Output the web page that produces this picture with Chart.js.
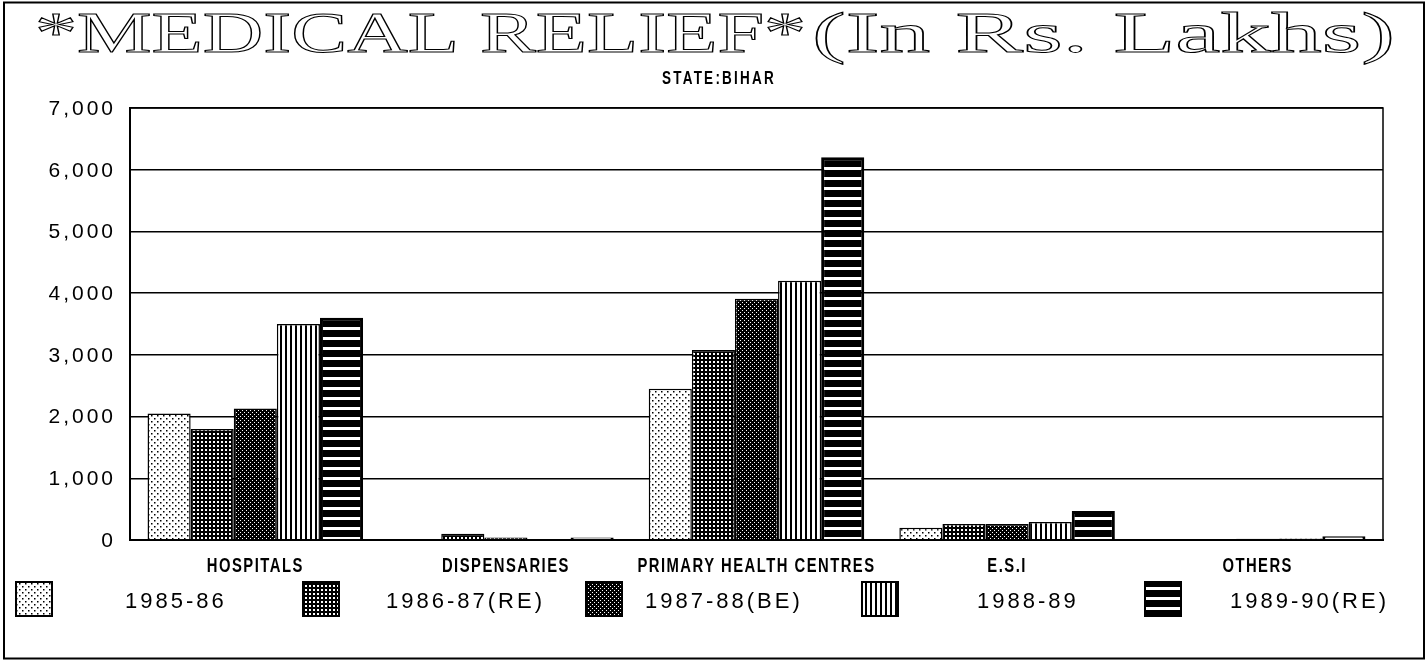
<!DOCTYPE html>
<html>
<head>
<meta charset="utf-8">
<title>Medical Relief - Bihar</title>
<script src="https://cdn.jsdelivr.net/npm/chart.js@4.4.0/dist/chart.umd.min.js"></script>
<style>
  html, body { margin: 0; padding: 0; background: #fff; }
  #chart { display: block; }
</style>
</head>
<body>
<canvas id="chart" width="1427" height="664"></canvas>
<script>
// Daten (in Rs. Lakhs)
const categories = ['HOSPITALS', 'DISPENSARIES', 'PRIMARY HEALTH CENTRES', 'E.S.I', 'OTHERS'];
const years = ['1985-86', '1986-87(RE)', '1987-88(BE)', '1988-89', '1989-90(RE)'];
const values1985 = [2050, 10, 2450, 200, 10];
const values1986 = [1800, 100, 3080, 260, 15];
const values1987 = [2130, 40, 3910, 260, 20];
const values1988 = [3500, 10, 4200, 290, 25];
const values1989 = [3600, 40, 6200, 470, 60];
const yTicks = [0, 1000, 2000, 3000, 4000, 5000, 6000, 7000];

const titleLeft = '*MEDICAL RELIEF*';
const titleRight = '(In Rs. Lakhs)';
const subtitleText = 'STATE:BIHAR';

// Schraffur-Muster wie im gedruckten Diagramm
function makePattern(kind) {
    const c = document.createElement('canvas');
    const g = c.getContext('2d');
    if (kind === 'dots') {
        c.width = 6; c.height = 6;
        g.fillStyle = '#fff'; g.fillRect(0, 0, 6, 6);
        g.fillStyle = '#000';
        g.fillRect(1, 1, 1.5, 1.5);
        g.fillRect(4, 4, 1.5, 1.5);
    } else if (kind === 'grid') {
        c.width = 4; c.height = 4;
        g.fillStyle = '#000'; g.fillRect(0, 0, 4, 4);
        g.fillStyle = '#fff'; g.fillRect(1, 1, 2, 2);
    } else if (kind === 'dark') {
        c.width = 4; c.height = 4;
        g.fillStyle = '#000'; g.fillRect(0, 0, 4, 4);
        g.fillStyle = '#fff';
        g.fillRect(0, 0, 1, 1);
        g.fillRect(2, 2, 1, 1);
    } else if (kind === 'vertical') {
        c.width = 5; c.height = 1;
        g.fillStyle = '#fff'; g.fillRect(0, 0, 5, 1);
        g.fillStyle = '#000'; g.fillRect(0, 0, 2, 1);
    } else {
        c.width = 1; c.height = 10;
        g.fillStyle = '#000'; g.fillRect(0, 0, 1, 10);
        g.fillStyle = '#fff'; g.fillRect(0, 7, 1, 3);
    }
    return g.createPattern(c, 'repeat');
}

const patterns = ['dots', 'grid', 'dark', 'vertical', 'horizontal'].map(makePattern);
const seriesValues = [values1985, values1986, values1987, values1988, values1989];

// Legende: Positionen der Kästchen und Texte
const legendBoxX = [16, 303, 586, 862, 1145];
const legendTextX = [125, 386, 645, 977, 1230];

// Text horizontal gestaucht/gestreckt zeichnen
function drawScaledText(ctx, text, x, y, sx, stroke) {
    ctx.save();
    ctx.translate(x, y);
    ctx.scale(sx, 1);
    if (stroke) {
        ctx.strokeText(text, 0, 0);
    } else {
        ctx.fillText(text, 0, 0);
    }
    ctx.restore();
}

// Text auf eine feste Breite bringen (Titel)
function drawFittedOutline(ctx, text, left, right, baseline) {
    const w = ctx.measureText(text).width;
    ctx.textAlign = 'left';
    drawScaledText(ctx, text, left, baseline, (right - left) / w, true);
}

// Rahmen, Titel, Achsenbeschriftung und Legende zeichnen
const decorPlugin = {
    id: 'decor',
    afterDraw(chart) {
        const ctx = chart.ctx;
        const area = chart.chartArea;
        ctx.save();

        // Äusserer Rahmen
        ctx.strokeStyle = '#000';
        ctx.lineWidth = 2;
        ctx.strokeRect(4, 2.5, 1420, 656);

        // Rahmen um die Zeichenfläche
        ctx.lineWidth = 1.5;
        ctx.strokeRect(area.left, area.top, area.right - area.left, area.bottom - area.top);

        // Titel (Umrissschrift)
        ctx.font = '56px "Liberation Serif"';
        ctx.textBaseline = 'alphabetic';
        ctx.lineWidth = 1;
        drawFittedOutline(ctx, titleLeft, 35, 806, 52);
        drawFittedOutline(ctx, titleRight, 812, 1395, 52);

        // Untertitel
        ctx.fillStyle = '#000';
        ctx.font = 'bold 18px "Liberation Sans"';
        ctx.letterSpacing = '3px';
        ctx.textAlign = 'center';
        ctx.textBaseline = 'middle';
        drawScaledText(ctx, subtitleText, 719, 79, 0.75, false);

        // Kategorien unter der X-Achse
        const xScale = chart.scales.x;
        ctx.font = 'bold 20px "Liberation Sans"';
        ctx.letterSpacing = '2px';
        categories.forEach((cat, i) => {
            drawScaledText(ctx, cat, xScale.getPixelForValue(i), 566, 0.74, false);
        });

        // Y-Achse Beschriftung
        const yScale = chart.scales.y;
        ctx.font = '21px "Liberation Sans"';
        ctx.letterSpacing = '3px';
        ctx.textAlign = 'right';
        yScale.ticks.forEach(t => {
            const y = yScale.getPixelForValue(t.value);
            ctx.fillText(t.value.toLocaleString('en-US'), 116, y + 1);
        });

        // Legende
        ctx.font = '22px "Liberation Sans"';
        ctx.letterSpacing = '3px';
        ctx.textAlign = 'left';
        years.forEach((label, i) => {
            ctx.fillStyle = patterns[i];
            ctx.fillRect(legendBoxX[i], 582, 36, 34);
            ctx.lineWidth = 2;
            ctx.strokeRect(legendBoxX[i], 582, 36, 34);
            ctx.fillStyle = '#000';
            ctx.fillText(label, legendTextX[i], 602);
        });

        ctx.restore();
    }
};

// Balkendiagramm erstellen
new Chart(document.getElementById('chart'), {
    type: 'bar',
    data: {
        labels: categories,
        datasets: years.map((year, i) => ({
            label: year,
            data: seriesValues[i],
            backgroundColor: patterns[i],
            borderColor: '#000',
            borderWidth: i === 4 ? 3 : 1.5,
            categoryPercentage: 0.86,
            barPercentage: 1
        }))
    },
    options: {
        responsive: false,
        animation: false,
        devicePixelRatio: 1,
        layout: {
            padding: { left: 130, top: 108, right: 44, bottom: 124 }
        },
        plugins: {
            legend: { display: false },
            title: { display: false },
            tooltip: { enabled: false }
        },
        scales: {
            x: {
                grid: { display: false, drawTicks: false },
                border: { display: true, color: '#000', width: 2 },
                ticks: { display: false }
            },
            y: {
                min: 0,
                max: 7000,
                afterBuildTicks: scale => {
                    scale.ticks = yTicks.map(v => ({ value: v }));
                },
                grid: { color: '#000', lineWidth: 1.5, drawTicks: false },
                border: { display: true, color: '#000', width: 2 },
                ticks: { display: false }
            }
        }
    },
    plugins: [decorPlugin]
});
</script>
</body>
</html>
